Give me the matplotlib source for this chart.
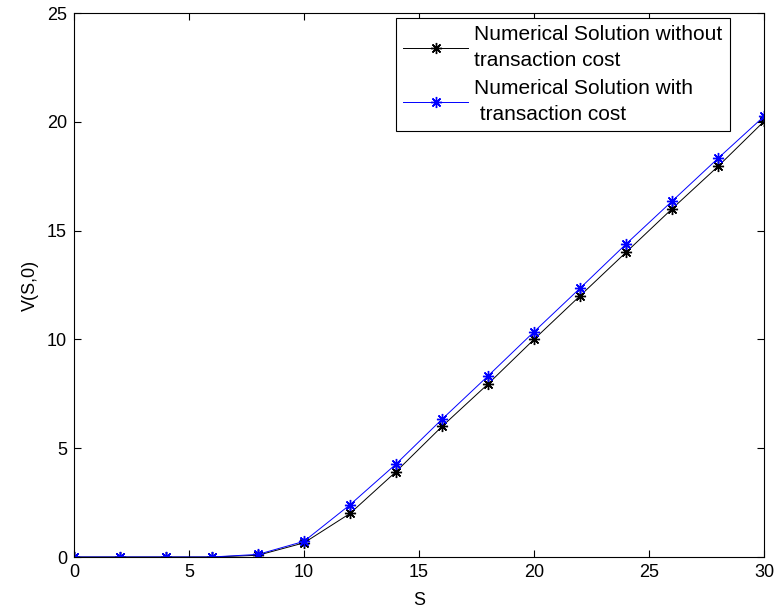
import matplotlib
matplotlib.use("Agg")
import matplotlib.pyplot as plt

S = [0, 2, 4, 6, 8, 10, 12, 14, 16, 18, 20, 22, 24, 26, 28, 30]
v_no_cost = [0, 0, 0, 0, 0.08, 0.65, 2.0, 3.92, 6.0, 7.95, 10.0, 12.0, 14.0, 16.0, 17.95, 20.02]
v_cost = [0, 0, 0, 0, 0.12, 0.72, 2.4, 4.27, 6.33, 8.32, 10.35, 12.35, 14.38, 16.35, 18.32, 20.25]
label_no_cost = "Numerical Solution without\ntransaction cost"
label_cost = "Numerical Solution with\n transaction cost"

plt.rcParams['font.family'] = ['Liberation Sans', 'DejaVu Sans']
fig = plt.figure(figsize=(7.74, 6.13), dpi=100)
ax = fig.add_axes([74/774, 1-557/613, 690/774, 544/613])

star = (8, 2, 0)
ax.plot(S, v_no_cost, color='black', marker=star, markersize=8, markeredgewidth=1.0,
        linewidth=0.7, label=label_no_cost)
ax.plot(S, v_cost, color='blue', marker=star, markersize=8, markeredgewidth=1.0,
        linewidth=0.7, label=label_cost)

ax.set_xlim(0, 30)
ax.set_ylim(0, 25)
ax.set_xticks([0, 5, 10, 15, 20, 25, 30])
ax.set_yticks([0, 5, 10, 15, 20, 25])
ax.tick_params(direction='in', top=True, right=True, labelsize=13, length=5, width=0.8, pad=5)
for sp in ax.spines.values():
    sp.set_linewidth(0.8)
ax.set_xlabel('S', fontsize=13, labelpad=8)
ax.set_ylabel('V(S,0)', fontsize=13, labelpad=6)

leg = ax.legend(loc='upper left', bbox_to_anchor=((396-74)/690, (557-18)/544),
                borderaxespad=0, fontsize=15, fancybox=False, framealpha=1,
                edgecolor='black', handlelength=3.1, handletextpad=0.3,
                labelspacing=0.45, borderpad=0.35)
leg.get_frame().set_linewidth(0.8)
for t in leg.get_texts():
    t.set_linespacing(1.45)

fig.savefig('out.png', dpi=100)
